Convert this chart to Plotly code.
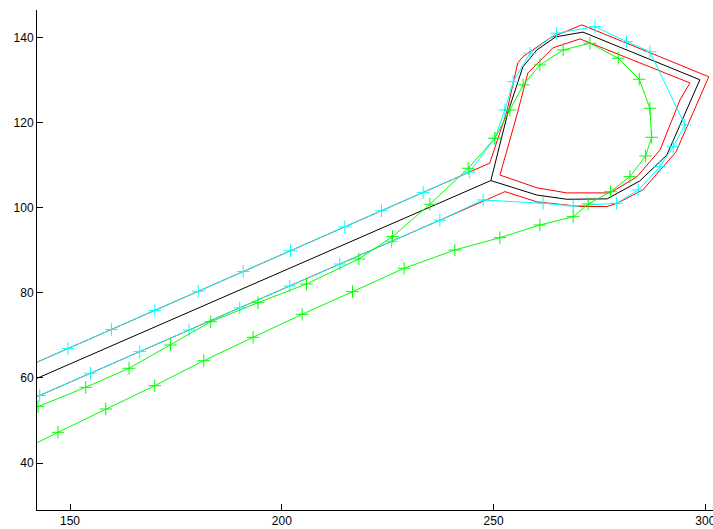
import plotly.graph_objects as go

# Road centre line (black)
black_x = [140.0, 249.35, 253.4, 256.9, 260.2, 264.7, 271.1, 298.7, 290.9, 284.5, 276.8, 267.3, 260.2, 249.35]
black_y = [58.95, 106.4, 122.5, 133.1, 137.1, 140.2, 141.3, 130.1, 112.4, 106.3, 102.1, 102.0, 103.0, 106.4]

# Outer road boundary (red)
red_outer_x = [140.0, 249.1, 253.1, 255.7, 256.9, 263.3, 270.85, 300.8, 293.05, 285.25, 279.1, 276.8, 270.4, 260.2, 252.7, 140.0]
red_outer_y = [62.74, 110.5, 122.5, 134.05, 135.5, 139.9, 143.0, 130.8, 113.1, 104.2, 101.05, 100.3, 100.3, 101.4, 103.8, 54.64]

# Inner road boundary (red)
red_inner_x = [251.5, 255.5, 258.1, 264.0, 270.4, 296.35, 294.0, 289.3, 283.8, 277.5, 267.3, 260.2, 251.5]
red_inner_y = [107.7, 121.8, 131.7, 137.6, 139.7, 129.35, 125.35, 113.6, 107.25, 103.5, 103.5, 104.7, 107.7]

# Trajectory 1 (cyan)
cyan_x = [140.0, 149.5, 159.77, 170.0, 180.27, 190.9, 202.05, 214.87, 223.54, 233.37, 244.28,
          250.3, 252.66, 254.62, 258.57, 264.87, 273.92, 281.4, 286.9, 295.17, 292.4, 289.27,
          284.14, 279.05, 268.8, 261.7, 247.54, 237.31, 225.9, 213.69, 201.88, 190.07, 178.1,
          166.46, 154.81, 142.84, 140.0]
cyan_y = [62.74, 66.9, 71.39, 75.87, 80.37, 85.02, 89.9, 95.52, 99.31, 103.61, 108.39,
          116.35, 123.0, 129.65, 136.33, 141.03, 142.59, 139.06, 136.7, 119.47, 114.37, 109.67,
          104.19, 101.06, 100.43, 101.06, 101.84, 97.09, 92.11, 86.78, 81.63, 76.48, 71.26,
          66.18, 61.1, 55.88, 54.64]

# Trajectory 2 (green)
green_x = [142.44, 153.7, 163.93, 173.71, 183.22, 194.4, 205.83, 218.18, 226.14, 234.95, 244.0,
           250.3, 253.84, 256.98, 260.93, 266.43, 272.74, 279.42, 284.38, 286.9, 287.31, 285.89,
           282.18, 277.63, 272.33, 268.79, 260.93, 251.48, 240.85, 228.88, 216.69, 204.79,
           193.21, 181.57, 170.0, 158.43, 147.16, 140.5]
green_y = [53.24, 57.8, 62.27, 67.74, 73.22, 77.69, 82.09, 87.97, 93.21, 100.83, 109.29,
           116.35, 123.0, 128.88, 133.58, 137.11, 138.68, 135.16, 130.22, 123.4, 116.58, 112.18,
           107.32, 103.79, 100.9, 97.91, 95.96, 92.97, 90.08, 85.78, 80.28, 74.96,
           69.55, 64.05, 58.18, 52.7, 47.22, 43.9]

x_ticks = [150, 200, 250, 300]
y_ticks = [40, 60, 80, 100, 120, 140]

fig = go.Figure()
fig.add_trace(go.Scatter(x=red_outer_x, y=red_outer_y, mode="lines",
                         line=dict(color="#ff0000", width=1)))
fig.add_trace(go.Scatter(x=red_inner_x, y=red_inner_y, mode="lines",
                         line=dict(color="#ff0000", width=1)))
fig.add_trace(go.Scatter(x=black_x, y=black_y, mode="lines",
                         line=dict(color="#000000", width=1)))
fig.add_trace(go.Scatter(x=cyan_x, y=cyan_y, mode="lines+markers",
                         line=dict(color="#00ffff", width=1),
                         marker=dict(symbol="cross-thin", size=9,
                                     line=dict(color="#00ffff", width=1))))
fig.add_trace(go.Scatter(x=green_x, y=green_y, mode="lines+markers",
                         line=dict(color="#00ff00", width=1),
                         marker=dict(symbol="cross-thin", size=9,
                                     line=dict(color="#00ff00", width=1))))

axis_common = dict(showgrid=False, zeroline=False, showline=True, linecolor="black",
                   linewidth=1, ticks="inside", ticklen=6, tickcolor="black",
                   ticklabeloverflow="allow",
                   tickfont=dict(family="Arial", size=12, color="black"), mirror=False)

fig.update_layout(
    width=713, height=529,
    margin=dict(l=37, r=0, t=10, b=19, autoexpand=False),
    paper_bgcolor="white", plot_bgcolor="white",
    showlegend=False,
    xaxis=dict(range=[142.2, 301.8], tickvals=x_ticks, **axis_common),
    yaxis=dict(range=[28.95, 146.5], tickvals=y_ticks, **axis_common),
)

fig.write_html("out.html",
               config={"displayModeBar": False},
               post_script="document.body.style.margin='0';document.body.style.overflow='hidden';")
